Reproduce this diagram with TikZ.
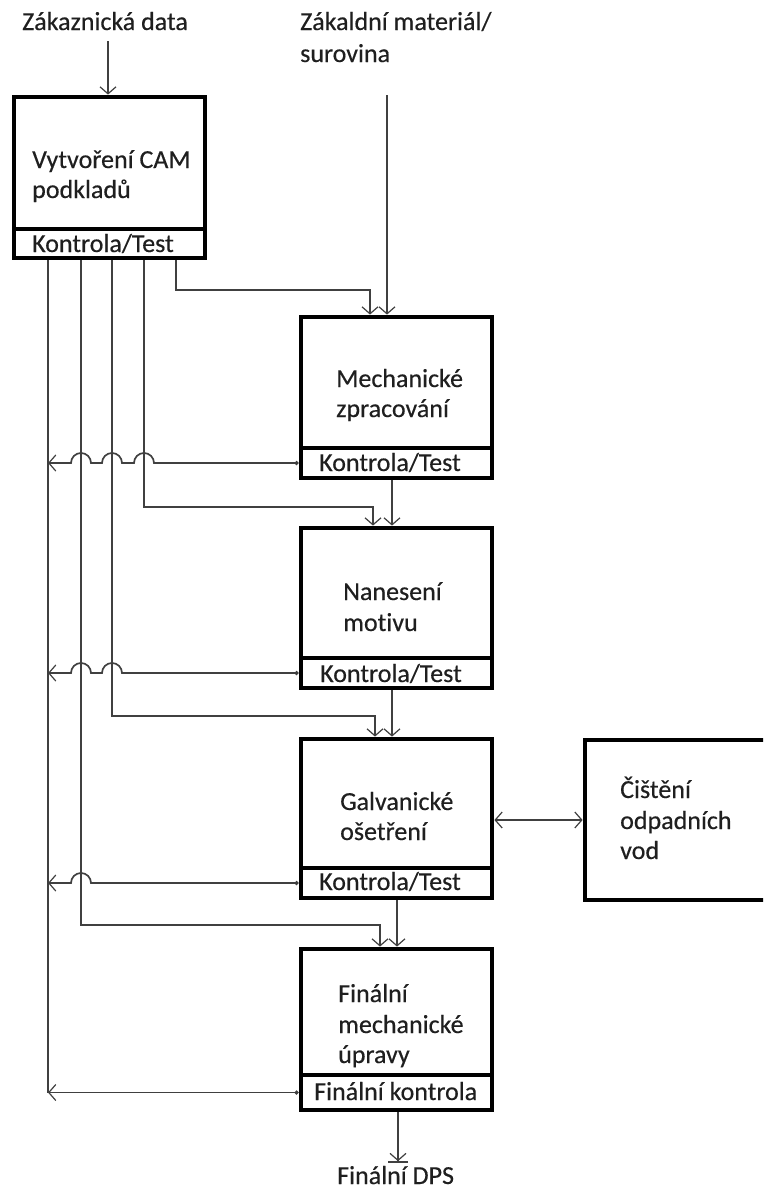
\documentclass[tikz,border=0pt]{standalone}
\usepackage{fontspec}
\setmainfont{Carlito}[Ligatures=NoCommon]
\usetikzlibrary{arrows.meta,calc}
\begin{document}
\begin{tikzpicture}[x=1pt,y=-1pt,
  box/.style={draw=black,line width=4.8pt,inner sep=0pt,fill=white},
  txt/.style={anchor=base west,inner sep=0pt,font=\fontsize{26}{30}\selectfont\addfontfeature{FakeBold=0.4},text=black!88},
  con/.style={draw=black!75,line width=1.7pt},
  arr/.style={con,-{Straight Barb[length=7pt,width=16pt,line width=1.2pt]}},
  darr/.style={con,{Straight Barb[length=7pt,width=16pt,line width=1.2pt]}-{Straight Barb[length=7pt,width=16pt,line width=1.2pt]}},
  fb/.style={con,{Circle[length=4pt]}-{Straight Barb[length=7pt,width=16pt,line width=1.2pt]}}
]
\clip (0,0) rectangle (763,1191);
\fill[white] (0,0) rectangle (763,1191);

% boxes
\node[box,minimum width=191pt,minimum height=132pt] (cam) at (109.5,163) {};
\node[box,minimum width=191pt,minimum height=29pt] (camk) at (109.5,243.5) {};
\node[box,minimum width=191pt,minimum height=131pt] (mech) at (396.5,382.5) {};
\node[box,minimum width=191pt,minimum height=30pt] (mk) at (396.5,463) {};
\node[box,minimum width=191pt,minimum height=130pt] (nan) at (396.5,593) {};
\node[box,minimum width=191pt,minimum height=30pt] (nk) at (396.5,673) {};
\node[box,minimum width=191pt,minimum height=129pt] (galv) at (396.5,803.5) {};
\node[box,minimum width=191pt,minimum height=30pt] (gk) at (396.5,883) {};
\node[box,minimum width=191pt,minimum height=126pt] (fin) at (396.5,1012) {};
\node[box,minimum width=191pt,minimum height=35pt] (fk) at (396.5,1092.5) {};
\node[box,minimum width=205pt,minimum height=160pt] (cis) at (687.5,820) {};

% texts
\node[txt] (zd) at (22,30) {Zákaznická data};
\node[txt] (mat1) at (300,30) {Zákaldní materiál/};
\node[txt] (mat2) at (300,62) {surovina};
\node[txt] (cam1) at (32,168) {Vytvoření CAM};
\node[txt] (cam2) at (32,198) {podkladů};
\node[txt] (camt) at (32,252) {Kontrola/Test};
\node[txt] (mech1) at (336,387) {Mechanické};
\node[txt] (mech2) at (336,417) {zpracování};
\node[txt] (mt) at (319,471) {Kontrola/Test};
\node[txt] (nan1) at (343,600) {Nanesení};
\node[txt] (nan2) at (343,631) {motivu};
\node[txt] (nt) at (320,682) {Kontrola/Test};
\node[txt] (galv1) at (340,810) {Galvanické};
\node[txt] (galv2) at (340,840) {ošetření};
\node[txt] (gt) at (319,890) {Kontrola/Test};
\node[txt] (cis1) at (620,798) {Čištění};
\node[txt] (cis2) at (620,829) {odpadních};
\node[txt] (cis3) at (620,859) {vod};
\node[txt] (fin1) at (338,1002) {Finální};
\node[txt] (fin2) at (338,1033) {mechanické};
\node[txt] (fin3) at (338,1063) {úpravy};
\node[txt] (ft) at (314,1100) {Finální kontrola};
\node[txt] (dps) at (337,1184) {Finální DPS};

% named coordinates
\coordinate (zdo) at (108,41);
\coordinate (mato) at (387,95);
\coordinate (v1) at (48,260);
\coordinate (v2) at (81,260);
\coordinate (v3) at (112,260);
\coordinate (v4) at (144,260);
\coordinate (v5) at (176,260);
\coordinate (xa) at (370,0);
\coordinate (xb) at (392,0);
\coordinate (xc) at (373,0);
\coordinate (xd) at (375,0);
\coordinate (xe) at (380,0);
\coordinate (xf) at (397,0);
\coordinate (xg) at (398,0);

% inputs
\draw[arr] (zdo) -- (cam.north -| zdo);
\draw[arr] (mato) -- (mech.north -| mato);

% from CAM control
\draw[arr] (v5) -- (176,290) -| (mech.north -| xa);
\draw[arr] (v4) -- (144,507) -| (nan.north -| xc);
\draw[arr] (v3) -- (112,716) -| (galv.north -| xd);
\draw[arr] (v2) -- (81,925) -| (fin.north -| xe);
\draw[con] (v1) -- (fk.west -| v1);

% main flow
\draw[arr] (mk.south -| xb) -- (nan.north -| xb);
\draw[arr] (nk.south -| xb) -- (galv.north -| xb);
\draw[arr] (gk.south -| xf) -- (fin.north -| xf);
\draw[con,shorten >=3pt,-{Straight Barb[length=7pt,width=16pt,line width=1.2pt]Bar[width=20pt,line width=1.6pt]}] (fk.south -| xg) -- (dps.north -| xg);

% waste water
\draw[darr] (cis.west -| galv.east) -- (cis.west);

% feedback with hops
\draw[fb] (mk.west)
  -- ($(mk.west -| v4)+(10pt,0)$) arc[start angle=0,end angle=180,radius=10pt]
  -- ($(mk.west -| v3)+(10pt,0)$) arc[start angle=0,end angle=180,radius=10pt]
  -- ($(mk.west -| v2)+(10pt,0)$) arc[start angle=0,end angle=180,radius=10pt]
  -- (mk.west -| v1);
\draw[fb] (nk.west)
  -- ($(nk.west -| v3)+(10pt,0)$) arc[start angle=0,end angle=180,radius=10pt]
  -- ($(nk.west -| v2)+(10pt,0)$) arc[start angle=0,end angle=180,radius=10pt]
  -- (nk.west -| v1);
\draw[fb] (gk.west)
  -- ($(gk.west -| v2)+(10pt,0)$) arc[start angle=0,end angle=180,radius=10pt]
  -- (gk.west -| v1);
\draw[fb] (fk.west) -- (fk.west -| v1);
\end{tikzpicture}
\end{document}
